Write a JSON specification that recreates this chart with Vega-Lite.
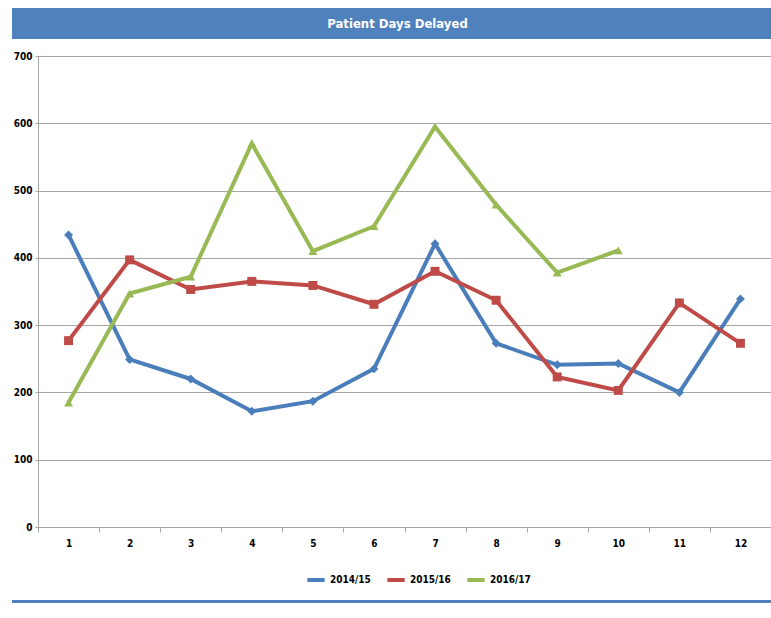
{
  "$schema": "https://vega.github.io/schema/vega-lite/v6.json",
  "padding": {"left": 12, "top": 8, "right": 0, "bottom": 0},
  "background": "white",
  "spacing": 7,
  "resolve": {"legend": {"color": "independent"}},
  "config": {
    "view": {"stroke": null},
    "font": "DejaVu Sans Condensed, sans-serif",
    "axis": {"labelFont": "DejaVu Sans Condensed, sans-serif", "labelColor": "#000000", "labelFontWeight": "bold", "labelFontSize": 10},
    "legend": {"labelFont": "DejaVu Sans Condensed, sans-serif", "labelColor": "#000000", "labelFontWeight": "bold", "labelFontSize": 10, "padding": 0}
  },
  "vconcat": [
    {
      "spacing": 12,
      "resolve": {"legend": {"color": "independent"}},
      "vconcat": [
        {
          "width": 759,
          "height": 31,
          "view": {"fill": "#4F81BD", "stroke": null},
          "data": {"values": [{"label": "Patient Days Delayed"}]},
          "mark": {"type": "text", "color": "white", "fontSize": 13, "fontWeight": "bold", "align": "center", "baseline": "middle", "dx": 6, "font": "DejaVu Sans Condensed, sans-serif"},
          "encoding": {"text": {"field": "label"}}
        },
        {
          "spacing": 0,
          "hconcat": [
            {
              "width": 1,
              "height": 471,
              "data": {"values": [{"label": ""}]},
              "mark": {"type": "text"},
              "encoding": {"text": {"field": "label"}}
            },
            {
              "width": 733,
              "height": 471,
              "data": {"values": [
                {"month": 1, "series": "2014/15", "value": 434},
                {"month": 2, "series": "2014/15", "value": 249},
                {"month": 3, "series": "2014/15", "value": 220},
                {"month": 4, "series": "2014/15", "value": 172},
                {"month": 5, "series": "2014/15", "value": 187},
                {"month": 6, "series": "2014/15", "value": 235},
                {"month": 7, "series": "2014/15", "value": 421},
                {"month": 8, "series": "2014/15", "value": 273},
                {"month": 9, "series": "2014/15", "value": 241},
                {"month": 10, "series": "2014/15", "value": 243},
                {"month": 11, "series": "2014/15", "value": 200},
                {"month": 12, "series": "2014/15", "value": 339},
                {"month": 1, "series": "2015/16", "value": 277},
                {"month": 2, "series": "2015/16", "value": 397},
                {"month": 3, "series": "2015/16", "value": 353},
                {"month": 4, "series": "2015/16", "value": 365},
                {"month": 5, "series": "2015/16", "value": 359},
                {"month": 6, "series": "2015/16", "value": 331},
                {"month": 7, "series": "2015/16", "value": 380},
                {"month": 8, "series": "2015/16", "value": 337},
                {"month": 9, "series": "2015/16", "value": 223},
                {"month": 10, "series": "2015/16", "value": 203},
                {"month": 11, "series": "2015/16", "value": 333},
                {"month": 12, "series": "2015/16", "value": 273},
                {"month": 1, "series": "2016/17", "value": 185},
                {"month": 2, "series": "2016/17", "value": 347},
                {"month": 3, "series": "2016/17", "value": 372},
                {"month": 4, "series": "2016/17", "value": 570},
                {"month": 5, "series": "2016/17", "value": 410},
                {"month": 6, "series": "2016/17", "value": 447},
                {"month": 7, "series": "2016/17", "value": 595},
                {"month": 8, "series": "2016/17", "value": 479},
                {"month": 9, "series": "2016/17", "value": 378},
                {"month": 10, "series": "2016/17", "value": 411}
              ]},
              "encoding": {
                "x": {
                  "field": "month", "type": "ordinal",
                  "scale": {"type": "band", "paddingInner": 0, "paddingOuter": 0},
                  "axis": {"title": null, "labelAngle": 0, "tickBand": "extent", "domainColor": "#A6A6A6", "tickColor": "#A6A6A6", "tickSize": 5, "labelPadding": 6}
                },
                "y": {
                  "field": "value", "type": "quantitative",
                  "scale": {"domain": [0, 700], "nice": false},
                  "axis": {"title": null, "values": [0, 100, 200, 300, 400, 500, 600, 700], "grid": true, "gridColor": "#A6A6A6", "domainColor": "#A6A6A6", "tickColor": "#A6A6A6", "tickSize": 3, "labelPadding": 3}
                },
                "color": {
                  "field": "series", "type": "nominal",
                  "scale": {"domain": ["2014/15", "2015/16", "2016/17"], "range": ["#4A7EBB", "#BE4B48", "#98B954"]},
                  "legend": {"title": null, "orient": "none", "direction": "horizontal", "legendX": 293, "legendY": 513, "symbolType": "stroke", "symbolStrokeWidth": 4, "symbolSize": 300, "columnPadding": 8, "labelOffset": 3}
                }
              },
              "layer": [
                {"mark": {"type": "line", "strokeWidth": 4}},
                {
                  "mark": {"type": "point", "filled": true, "opacity": 1, "size": 80},
                  "encoding": {
                    "color": {"field": "series", "type": "nominal", "legend": null},
                    "shape": {"field": "series", "type": "nominal", "scale": {"domain": ["2014/15", "2015/16", "2016/17"], "range": ["diamond", "square", "triangle-up"]}, "legend": null}
                  }
                }
              ]
            }
          ]
        }
      ]
    },
    {
      "width": 759,
      "height": 3,
      "view": {"fill": "#4F81BD", "stroke": null},
      "data": {"values": [{"label": ""}]},
      "mark": {"type": "text"},
      "encoding": {"text": {"field": "label"}}
    }
  ]
}
